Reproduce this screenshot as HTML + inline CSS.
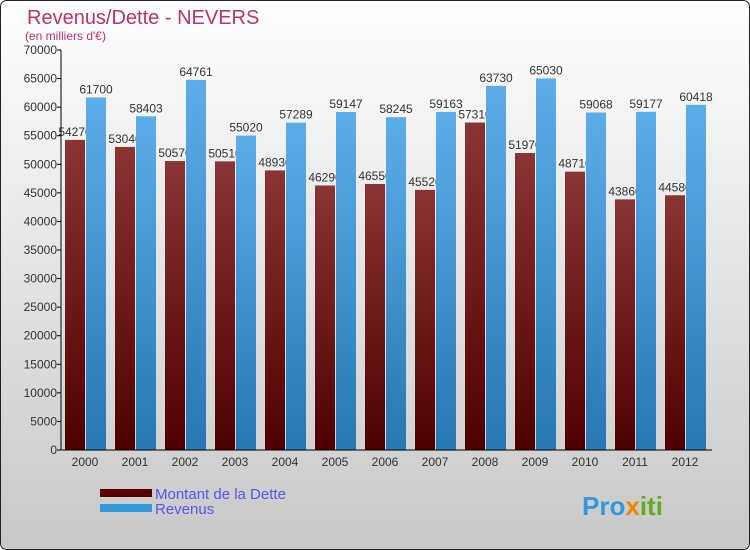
<!DOCTYPE html>
<html><head><meta charset="utf-8"><style>
body{margin:0;}
svg{display:block;font-family:"Liberation Sans","DejaVu Sans",sans-serif;}
</style></head><body>
<svg id="c" width="750" height="550">
<defs>
<linearGradient id="bg" x1="0" y1="0" x2="0" y2="1"><stop offset="0" stop-color="#ffffff"/><stop offset="1" stop-color="#c8c8c8"/></linearGradient>
<linearGradient id="gd" x1="0" y1="0" x2="0" y2="1"><stop offset="0" stop-color="#8a3434"/><stop offset="1" stop-color="#4e0000"/></linearGradient>
<linearGradient id="gr" x1="0" y1="0" x2="0" y2="1"><stop offset="0" stop-color="#5cade9"/><stop offset="1" stop-color="#2677b2"/></linearGradient>
</defs>
<rect x="0.5" y="0.5" width="749" height="549" rx="6" fill="url(#bg)" stroke="#222"/>
<text x="27" y="24" font-size="20" fill="#c0306a">Revenus/Dette - NEVERS</text>
<text x="25" y="40" font-size="12" fill="#c0306a">(en milliers d'€)</text>
<g id="plot"></g>
<g>
<rect x="100" y="489" width="52" height="8" fill="#5a0000"/>
<text x="155" y="499" font-size="15" fill="#5555ee">Montant de la Dette</text>
<rect x="100" y="504" width="52" height="8" fill="#3399dd"/>
<text x="155" y="514" font-size="15" fill="#5555ee">Revenus</text>
</g>
<text x="582" y="515" font-size="26" font-weight="bold"><tspan fill="#3399dd">Pro</tspan><tspan fill="#ee8800">x</tspan><tspan fill="#66aa22">iti</tspan></text>
</svg>
<script>
const years=["2000","2001","2002","2003","2004","2005","2006","2007","2008","2009","2010","2011","2012"];
const dette=[54270,53040,50570,50510,48930,46290,46550,45520,57310,51970,48710,43860,44580];
const revenus=[61700,58403,64761,55020,57289,59147,58245,59163,63730,65030,59068,59177,60418];
const yTicks=[0,5000,10000,15000,20000,25000,30000,35000,40000,45000,50000,55000,60000,65000,70000];
const NS="http://www.w3.org/2000/svg";
const g=document.getElementById('plot');
const y0=450,yTop=50,yMax=70000,x0=61,step=50,first=85,bw=20;
const Y=v=>y0-(v/yMax)*(y0-yTop);
const X=i=>first+i*step;
function mk(t,a,txt){const e=document.createElementNS(NS,t);for(const k in a)e.setAttribute(k,a[k]);if(txt!==undefined)e.textContent=txt;g.appendChild(e);return e;}
yTicks.forEach(v=>{
 const l=mk('line',{x1:x0-4,x2:x0,y1:Y(v),y2:Y(v),stroke:'#000'});
 
 
 const t=mk('text',{x:x0-4,y:Y(v)+4,'font-size':12,fill:'#333','text-anchor':'end'},String(v));
 
 
});
years.forEach((yr,i)=>{
 const cx=X(i);
 const d=mk('rect',{x:cx-bw,y:Y(dette[i]),width:bw,height:y0-Y(dette[i]),fill:'url(#gd)'});
 
 
 const dl=mk('text',{x:cx-bw/2,y:Y(dette[i])-4,'font-size':12,fill:'#333','text-anchor':'middle'},String(dette[i]));
 
 
 const r=mk('rect',{x:cx+1,y:Y(revenus[i]),width:bw,height:y0-Y(revenus[i]),fill:'url(#gr)'});
 
 
 const rl=mk('text',{x:cx+1+bw/2,y:Y(revenus[i])-4,'font-size':12,fill:'#333','text-anchor':'middle'},String(revenus[i]));
 
 
 const xl=mk('text',{x:cx,y:466,'font-size':12,fill:'#333','text-anchor':'middle'},yr);
 
 
});
const ya=mk('line',{x1:x0,x2:x0,y1:yTop,y2:y0,stroke:'#000'});


const xa=mk('line',{x1:x0,x2:712,y1:y0,y2:y0,stroke:'#000'});


</script>
</body></html>
